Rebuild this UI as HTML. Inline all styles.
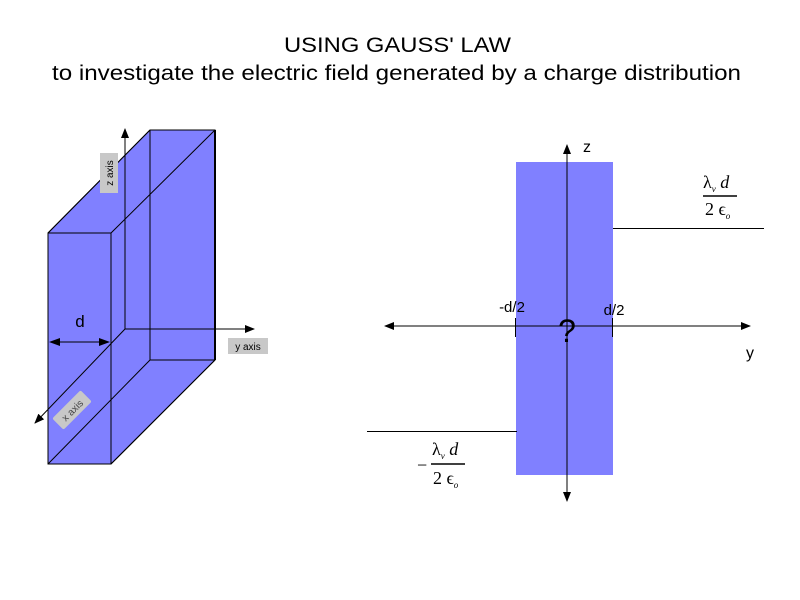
<!DOCTYPE html>
<html><head><style>
body{margin:0;background:#fff;}
svg{display:block;font-family:"Liberation Sans",sans-serif;}
.s{font-family:"Liberation Serif",serif;}
</style></head><body>
<svg width="800" height="600" viewBox="0 0 800 600">
<defs>
<marker id="a" markerWidth="10" markerHeight="8" refX="9" refY="4" orient="auto" markerUnits="userSpaceOnUse"><path d="M0,0 L10,4 L0,8 Z" fill="#000"/></marker>
</defs>
<text x="284" y="52" font-size="21" textLength="227" lengthAdjust="spacingAndGlyphs">USING GAUSS' LAW</text>
<text x="52" y="80" font-size="21" textLength="689" lengthAdjust="spacingAndGlyphs">to investigate the electric field generated by a charge distribution</text>

<!-- 3D slab -->
<g stroke="#000" stroke-width="1" fill="#8080ff">
<polygon points="48,233 150,130 215,130 215,360 111,464 48,464"/>
</g>
<g stroke="#000" stroke-width="1" fill="none">
<rect x="48" y="233" width="63" height="231"/>
<line x1="111" y1="233" x2="215" y2="130"/>
<line x1="150" y1="130" x2="150" y2="360"/>
<line x1="150" y1="360" x2="215" y2="360"/>
<line x1="48" y1="464" x2="150" y2="360"/>
<line x1="111" y1="464" x2="215" y2="360"/>
<line x1="48" y1="233" x2="150" y2="130"/>
<line x1="150" y1="130" x2="215" y2="130"/>
<line x1="215" y1="130" x2="215" y2="360" stroke-width="2"/>
<line x1="125" y1="329" x2="125" y2="129" marker-end="url(#a)"/>
<line x1="125" y1="329" x2="254" y2="329" marker-end="url(#a)"/>
<line x1="125" y1="329" x2="35" y2="423" marker-end="url(#a)"/>
<line x1="58" y1="342" x2="101" y2="342"/>
</g>
<path d="M49,342 L60,338 L60,346 Z M110,342 L99,338 L99,346 Z" fill="#000"/>
<text x="80" y="327" font-size="17" text-anchor="middle">d</text>
<rect x="100" y="153" width="18" height="40" fill="#c8c8c8"/>
<text transform="translate(113,173) rotate(-90)" font-size="10" text-anchor="middle">z axis</text>
<rect x="228" y="338" width="40" height="16" fill="#c8c8c8"/>
<text x="248" y="350" font-size="10" text-anchor="middle">y axis</text>
<g transform="translate(72,410) rotate(-45)">
<rect x="-20" y="-8" width="40" height="16" rx="2" fill="#c8c8c8"/>
<text x="0" y="4" font-size="10" text-anchor="middle" fill="#444">x axis</text>
</g>

<!-- right diagram -->
<rect x="516" y="162" width="97" height="313" fill="#8080ff"/>
<g stroke="#000" stroke-width="1" fill="none">
<line x1="567" y1="500" x2="567" y2="145" marker-end="url(#a)"/>
<line x1="567" y1="145" x2="567" y2="501" marker-end="url(#a)"/>
<line x1="385" y1="326" x2="750" y2="326" marker-end="url(#a)"/>
<line x1="750" y1="326" x2="385" y2="326" marker-end="url(#a)"/>
<line x1="515.5" y1="318" x2="515.5" y2="337"/>
<line x1="612.5" y1="318" x2="612.5" y2="337"/>
<line x1="613" y1="228.5" x2="764" y2="228.5"/>
<line x1="367" y1="431.5" x2="517" y2="431.5"/>
</g>
<text x="587" y="152" font-size="16" text-anchor="middle">z</text>
<text x="750" y="358" font-size="16" text-anchor="middle">y</text>
<text x="512" y="312" font-size="15" text-anchor="middle">-d/2</text>
<text x="614" y="315" font-size="15" text-anchor="middle">d/2</text>
<text x="567" y="342" font-size="32" text-anchor="middle">?</text>

<g class="s">
<text x="703" y="188" font-size="18">λ<tspan font-size="9" dy="4" font-style="italic">v</tspan><tspan dy="-4" font-style="italic"> d</tspan></text>
<line x1="703" y1="196" x2="737" y2="196" stroke="#000" stroke-width="1.5"/>
<text x="705" y="215" font-size="18">2 ϵ<tspan font-size="9" dy="4" font-style="italic">o</tspan></text>
<text x="417" y="471" font-size="18">−</text>
<text x="432" y="455" font-size="18">λ<tspan font-size="9" dy="4" font-style="italic">v</tspan><tspan dy="-4" font-style="italic"> d</tspan></text>
<line x1="431" y1="464" x2="465" y2="464" stroke="#000" stroke-width="1.5"/>
<text x="433" y="484" font-size="18">2 ϵ<tspan font-size="9" dy="4" font-style="italic">o</tspan></text>
</g>
</svg>
</body></html>
